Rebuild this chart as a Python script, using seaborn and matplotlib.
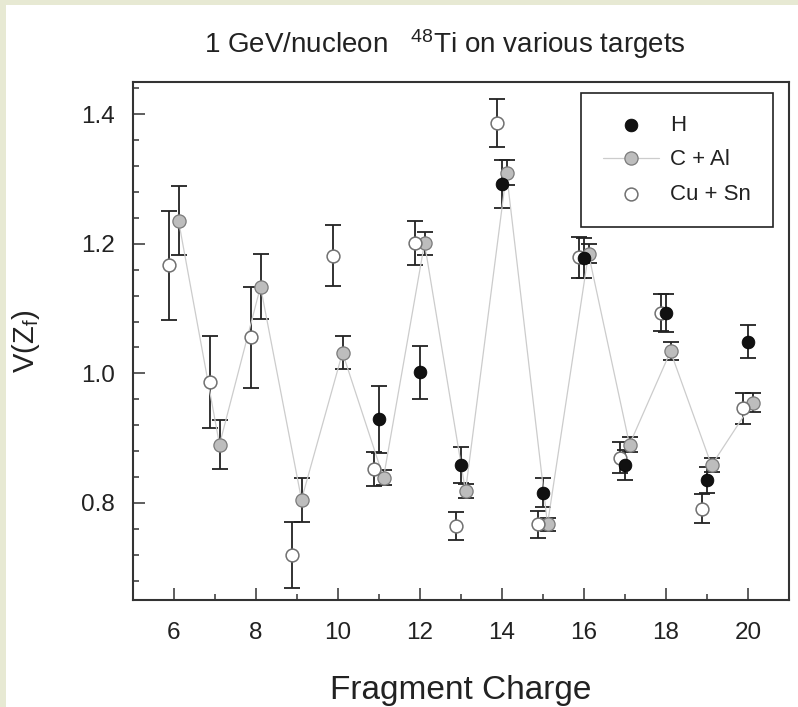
import matplotlib
matplotlib.use("Agg")
import matplotlib.pyplot as plt
from matplotlib.patches import Rectangle
from matplotlib.ticker import MultipleLocator, FormatStrFormatter
import numpy as np
import pandas as pd
import seaborn as sns

# data
z_h = [11, 12, 13, 14, 15, 16, 17, 18, 19, 20]
v_h = [0.929, 1.002, 0.858, 1.292, 0.816, 1.178, 0.858, 1.093, 0.836, 1.049]
err_h = [0.052, 0.041, 0.028, 0.037, 0.022, 0.031, 0.023, 0.029, 0.020, 0.026]

z_cal = [6, 7, 8, 9, 10, 11, 12, 13, 14, 15, 16, 17, 18, 19, 20]
v_cal = [1.236, 0.890, 1.134, 0.805, 1.032, 0.839, 1.201, 0.818, 1.310, 0.767,
         1.185, 0.890, 1.034, 0.858, 0.955]
err_cal = [0.053, 0.038, 0.050, 0.034, 0.025, 0.012, 0.018, 0.011, 0.019, 0.010,
           0.015, 0.012, 0.014, 0.011, 0.014]

z_cusn = [6, 7, 8, 9, 10, 11, 12, 13, 14, 15, 16, 17, 18, 19, 20]
v_cusn = [1.167, 0.986, 1.056, 0.720, 1.182, 0.852, 1.202, 0.764, 1.386, 0.767,
          1.179, 0.870, 1.094, 0.791, 0.946]
err_cusn = [0.084, 0.071, 0.078, 0.051, 0.047, 0.026, 0.034, 0.022, 0.037, 0.021,
            0.031, 0.024, 0.029, 0.022, 0.024]

# small horizontal shifts so the series don't sit on top of each other
shift_cal = 0.11
shift_cusn = -0.11

df_h = pd.DataFrame({"Z": z_h, "V": v_h, "err": err_h})
df_cal = pd.DataFrame({"Z": np.array(z_cal) + shift_cal, "V": v_cal, "err": err_cal})
df_cusn = pd.DataFrame({"Z": np.array(z_cusn) + shift_cusn, "V": v_cusn, "err": err_cusn})

sns.set_style("white")
plt.rcParams["font.family"] = ["Liberation Sans", "DejaVu Sans"]
plt.rcParams["mathtext.fontset"] = "custom"
plt.rcParams["mathtext.rm"] = "Liberation Sans"
plt.rcParams["mathtext.it"] = "Liberation Sans:italic"

fig = plt.figure(figsize=(7.98, 7.07), dpi=100, facecolor="#e7e9d3")
# white sheet on the textured page
fig.patches.append(Rectangle((6 / 798, 0), 1, 1 - 5 / 707, transform=fig.transFigure,
                             facecolor="white", edgecolor="none", zorder=-10))
ax = fig.add_axes([133 / 798, 1 - 600 / 707, 656 / 798, 518 / 707])
ax.set_facecolor("white")

ebar_kw = dict(fmt="none", ecolor="#222222", elinewidth=1.3, capsize=5.8, capthick=1.3, zorder=2)
ax.errorbar(df_cusn["Z"], df_cusn["V"], yerr=df_cusn["err"], **ebar_kw)
ax.errorbar(df_h["Z"], df_h["V"], yerr=df_h["err"], **ebar_kw)
ax.errorbar(df_cal["Z"], df_cal["V"], yerr=df_cal["err"], **ebar_kw)

sns.lineplot(data=df_cal, x="Z", y="V", ax=ax, color="#cccccc", lw=0.9, marker="o",
             markersize=9.5, markerfacecolor="#bdbdbd", markeredgecolor="#7a7a7a",
             markeredgewidth=0.9, label="C + Al", zorder=3)
sns.scatterplot(data=df_cusn, x="Z", y="V", ax=ax, s=85, facecolor="white",
                edgecolor="#707070", linewidth=1.1, label="Cu + Sn", zorder=4)
sns.scatterplot(data=df_h, x="Z", y="V", ax=ax, s=85, color="#111111",
                edgecolor="black", linewidth=0.5, label="H", zorder=5)

ax.set_xlim(5, 21)
ax.set_ylim(0.65, 1.45)
ax.xaxis.set_major_locator(MultipleLocator(2))
ax.xaxis.set_minor_locator(MultipleLocator(1))
ax.yaxis.set_major_locator(MultipleLocator(0.2))
ax.yaxis.set_minor_locator(MultipleLocator(0.04))
ax.yaxis.set_major_formatter(FormatStrFormatter("%.1f"))
ax.tick_params(which="both", direction="in", bottom=True, left=True, top=False, right=False,
               width=1.1, color="#333333", labelcolor="#222222", labelsize=17.5)
ax.tick_params(which="major", length=8.5)
ax.tick_params(which="minor", length=4.5)
ax.tick_params(axis="x", which="major", pad=16)
ax.tick_params(axis="y", which="major", pad=13)
for sp in ax.spines.values():
    sp.set_color("#333333")
    sp.set_linewidth(1.5)

ax.set_xlabel("Fragment Charge", fontsize=24, color="#222222", labelpad=22)
ax.set_ylabel(r"V(Z$_{\rm f}$)", fontsize=21, color="#222222", labelpad=28)

fig.text(445 / 798, 1 - 53 / 707, r"1 GeV/nucleon   $^{48}$Ti on various targets",
         ha="center", va="baseline", fontsize=20, color="#222222")

handles, labels = ax.get_legend_handles_labels()
order = [labels.index(k) for k in ["H", "C + Al", "Cu + Sn"]]
leg = ax.legend([handles[i] for i in order], [labels[i] for i in order],
                loc="upper right", bbox_to_anchor=(0.9756, 0.979), borderaxespad=0,
                frameon=True, fancybox=False, framealpha=1, edgecolor="#222222",
                fontsize=16, borderpad=1.0, labelspacing=0.6, handlelength=2.5,
                handletextpad=0.5)
leg.get_frame().set_linewidth(1.2)
for t in leg.get_texts():
    t.set_color("#222222")

fig.savefig("out.png", dpi=100)
